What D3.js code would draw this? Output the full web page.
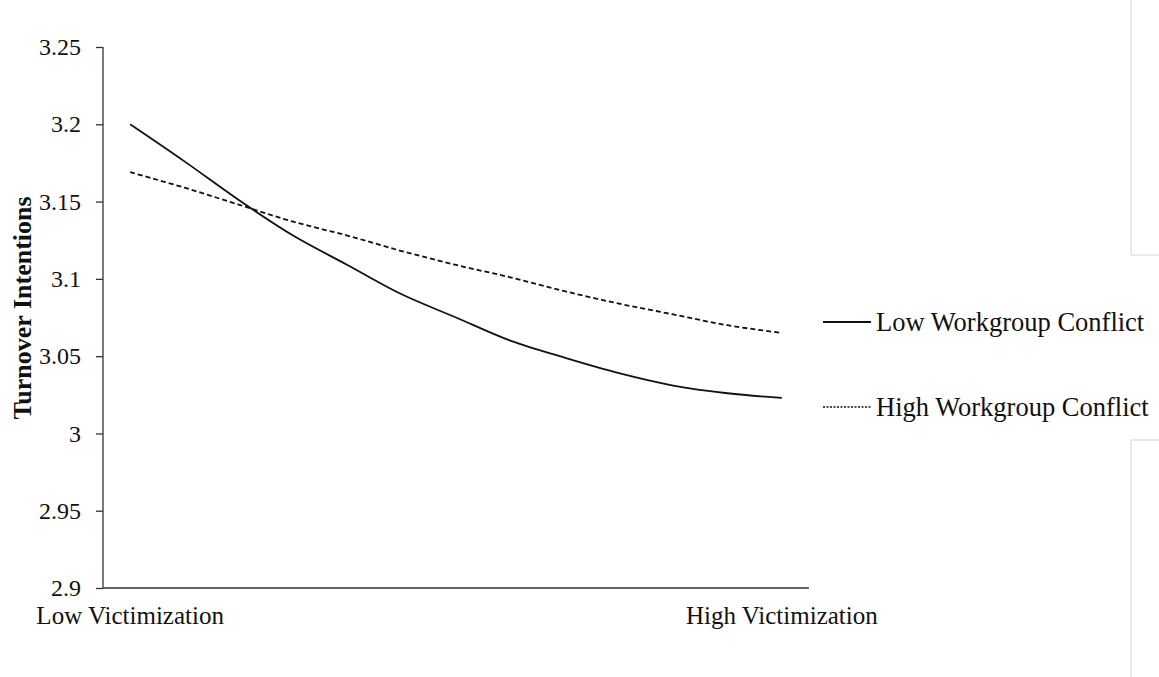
<!DOCTYPE html>
<html>
<head>
<meta charset="utf-8">
<script src="https://cdn.jsdelivr.net/npm/d3@7"></script>
<style>
  body { margin: 0; background: #fff; }
  svg text { font-family: "Liberation Serif", "Times New Roman", serif; fill: #111; }
</style>
</head>
<body>
<svg id="chart" width="1159" height="677"></svg>
<script>
// categories: only the ends carry a label
var categories = ["Low Victimization", "", "", "", "", "", "", "", "", "", "", "", "High Victimization"];

var lowConflict  = [3.200, 3.176, 3.151, 3.128, 3.109, 3.090, 3.075, 3.060, 3.049, 3.039, 3.031, 3.026, 3.023];
var highConflict = [3.169, 3.159, 3.148, 3.137, 3.128, 3.118, 3.109, 3.101, 3.092, 3.084, 3.077, 3.070, 3.065];

var yTicks = [2.9, 2.95, 3, 3.05, 3.1, 3.15, 3.2, 3.25];
var seriesNames = ["Low Workgroup Conflict", "High Workgroup Conflict"];

var svg = d3.select("#chart");

var plotL = 103, plotR = 809, plotT = 47, plotB = 588;

var x = d3.scaleBand()
    .domain(d3.range(categories.length))
    .range([plotL, plotR]);

var y = d3.scaleLinear()
    .domain([2.9, 3.25])
    .range([plotB, plotT]);

// y axis
var yAxis = svg.append("g")
    .attr("transform", "translate(" + plotL + ",0)")
    .call(d3.axisLeft(y).tickValues(yTicks).tickFormat(d3.format("")).tickSize(7).tickPadding(15));
yAxis.selectAll("path, line").attr("stroke", "#333").attr("stroke-width", 1.3);
yAxis.selectAll("text").style("font-size", "24px").attr("fill", "#111")
    .style("font-family", "Liberation Serif, Times New Roman, serif");
yAxis.select(".domain").attr("d", "M0," + plotT + "V" + plotB);

// x axis
var xAxis = svg.append("g")
    .attr("transform", "translate(0," + plotB + ")")
    .call(d3.axisBottom(x).tickFormat(function (i) { return categories[i]; }).tickSize(0).tickPadding(18));
xAxis.selectAll("path").attr("stroke", "#333").attr("stroke-width", 1.3)
    .attr("d", "M" + plotL + ",0H" + plotR);
xAxis.selectAll("text").style("font-size", "25px").attr("fill", "#111")
    .style("font-family", "Liberation Serif, Times New Roman, serif");

// y title
svg.append("text")
    .attr("transform", "translate(31," + 308 + ") rotate(-90)")
    .attr("text-anchor", "middle")
    .style("font-size", "26px")
    .style("font-weight", "bold")
    .text("Turnover Intentions");

var line = d3.line()
    .x(function (d, i) { return x(i) + x.bandwidth() / 2; })
    .y(function (d) { return y(d); })
    .curve(d3.curveCatmullRom);

svg.append("path")
    .datum(lowConflict)
    .attr("d", line)
    .attr("fill", "none")
    .attr("stroke", "#111")
    .attr("stroke-width", 1.8);

svg.append("path")
    .datum(highConflict)
    .attr("d", line)
    .attr("fill", "none")
    .attr("stroke", "#111")
    .attr("stroke-width", 1.8)
    .attr("stroke-dasharray", "5,3");

// legend
var legend = svg.append("g");
var legY = [322, 407];
seriesNames.forEach(function (name, k) {
    legend.append("line")
        .attr("x1", 823).attr("x2", 871)
        .attr("y1", legY[k]).attr("y2", legY[k])
        .attr("stroke", "#111")
        .attr("stroke-width", k === 0 ? 1.8 : 1.3)
        .attr("stroke-dasharray", k === 0 ? null : "2,1.5");
    legend.append("text")
        .attr("x", 876)
        .attr("y", legY[k] + 9)
        .style("font-size", "26.5px")
        .text(name);
});

// page frame edges at right
var frame = svg.append("g").attr("stroke", "#d4d4d4").attr("fill", "none");
frame.append("path").attr("d", "M1131,0V255H1159");
frame.append("path").attr("d", "M1159,440H1131V677");
</script>
</body>
</html>
